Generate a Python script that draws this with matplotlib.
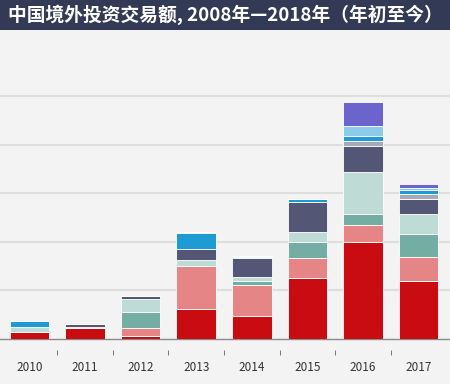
import matplotlib.pyplot as plt
import matplotlib.transforms as mtransforms
from matplotlib.patches import Rectangle

plt.rcParams['font.family'] = ['Noto Sans CJK SC', 'DejaVu Sans']

years = ['2010', '2011', '2012', '2013', '2014', '2015', '2016', '2017']

# deal value per sector, bottom to top of each stack
red = [7.2, 11, 3.6, 31, 24, 63, 100, 60]
pink = [0, 0, 8, 44, 32, 20.6, 17.2, 24.7]
teal = [0, 0, 16, 0, 3.4, 16, 11.3, 23]
pale = [4.8, 1.5, 13.7, 5.8, 4.8, 10.3, 43.6, 20.6]
navy = [0, 2.5, 3, 12, 19, 31, 26, 15.5]
grey = [0, 0, 0, 0, 0, 0, 5.8, 5.8]
blue = [6.5, 0, 0, 15.8, 1.2, 3.4, 5.2, 3.4]
ltblue = [0, 0, 0, 1.5, 1.4, 0, 10.3, 2.4]
purple = [0, 0, 0, 0, 0, 0, 24, 4.5]

series = [red, pink, teal, pale, navy, grey, blue, ltblue, purple]
colors = ['#c80c12', '#e58585', '#74ada3', '#bedbd6', '#545676',
          '#a7a9b9', '#1e9bd2', '#8ecbe8', '#6b64cc']

bg = '#f3f3f3'
fig = plt.figure(figsize=(4.5, 3.84), dpi=100, facecolor=bg)
ax = fig.add_axes([0, 45 / 384, 1, 299 / 384], facecolor=bg)

x = list(range(len(years)))
bottom = [0] * len(years)
for vals, c in zip(series, colors):
    ax.bar(x, vals, 0.71, bottom=bottom, color=c, edgecolor='white',
           linewidth=0.6, zorder=3)
    bottom = [b + v for b, v in zip(bottom, vals)]

ax.set_xlim(-0.531, 7.567)
ax.set_ylim(0, 307.6)
ax.set_yticks([50, 100, 150, 200, 250])
ax.yaxis.grid(True, color='#dedede', linewidth=1.5, zorder=0)
ax.tick_params(axis='y', left=False, labelleft=False)
ax.set_xticks(x)
ax.set_xticklabels(years, fontsize=8.5, color='#333333', fontweight='medium')
ax.tick_params(axis='x', length=0, pad=15.5)
for s in ['top', 'right', 'left']:
    ax.spines[s].set_visible(False)
ax.spines['bottom'].set_color('#8a8a8a')
ax.spines['bottom'].set_linewidth(1)

# small separators between year labels
trans = mtransforms.blended_transform_factory(ax.transData, ax.transAxes)
mids = [i + 0.5 for i in x[:-1]]
ax.vlines(mids, -16 / 299, -11 / 299, transform=trans, color='#777777',
          linewidth=0.7, clip_on=False)

# title band
fig.patches.append(Rectangle((0, 354 / 384), 1, 30 / 384, transform=fig.transFigure,
                             facecolor='#323a55', edgecolor='none'))
fig.text(0.018, 369 / 384, '中国境外投资交易额, 2008年—2018年（年初至今）',
         color='white', fontsize=13.5, fontweight='bold', va='center', ha='left')

fig.savefig('out.png', dpi=100, facecolor=bg)
